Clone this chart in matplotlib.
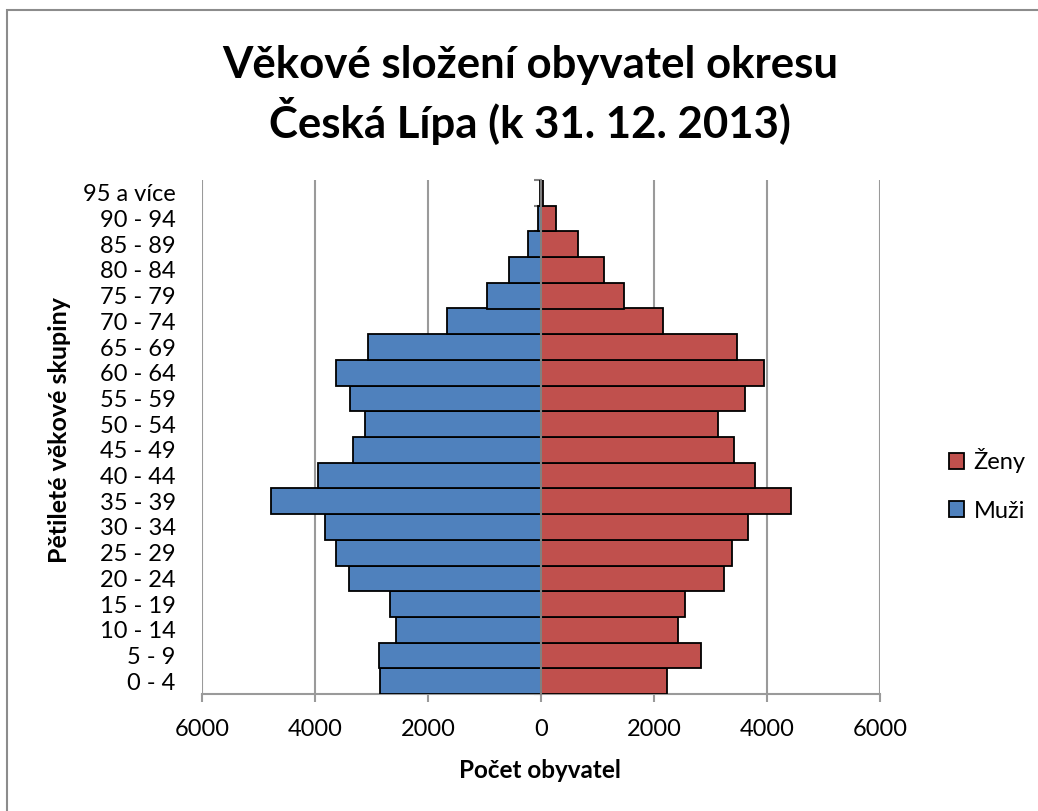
import matplotlib
matplotlib.use("Agg")
import matplotlib.pyplot as plt
import matplotlib.patches as mpatches
from matplotlib.ticker import FuncFormatter, FixedLocator
import numpy as np

plt.rcParams['font.family'] = ['Lato', 'DejaVu Sans']

categories = ["0 - 4", "5 - 9", "10 - 14", "15 - 19", "20 - 24", "25 - 29", "30 - 34",
              "35 - 39", "40 - 44", "45 - 49", "50 - 54", "55 - 59", "60 - 64",
              "65 - 69", "70 - 74", "75 - 79", "80 - 84", "85 - 89", "90 - 94", "95 a více"]
muzi = [2850, 2873, 2560, 2667, 3404, 3634, 3829, 4785, 3941, 3322, 3121, 3381, 3634,
        3068, 1670, 956, 561, 225, 60, 12]
zeny = [2224, 2838, 2419, 2543, 3239, 3375, 3670, 4425, 3794, 3422, 3139, 3611, 3953,
        3469, 2153, 1475, 1121, 660, 265, 35]
xticks = [-6000, -4000, -2000, 0, 2000, 4000, 6000]

title = "Věkové složení obyvatel okresu\nČeská Lípa (k 31. 12. 2013)"
xlabel = "Počet obyvatel"
ylabel = "Pětileté věkové skupiny"

BLUE = "#4F81BD"
RED = "#C0504D"
GRID = "#9A9A9A"

W, H = 1038, 811
fig = plt.figure(figsize=(W / 100, H / 100), dpi=100)
fig.patch.set_facecolor("white")

# chart border
fig.add_artist(mpatches.Rectangle((7 / W, -0.01), 1.02, 1 - 10 / H + 0.01,
                                  transform=fig.transFigure, fill=False,
                                  edgecolor="#8C8C8C", linewidth=1.5))

ax = fig.add_axes([202 / W, 1 - 694 / H, (880 - 202) / W, (694 - 180) / H])
y = np.arange(len(categories))
ax.barh(y, [-v for v in muzi], height=1.0, color=BLUE, edgecolor="black", linewidth=1.3,
        label="Muži", zorder=3)
ax.barh(y, zeny, height=1.0, color=RED, edgecolor="black", linewidth=1.3,
        label="Ženy", zorder=3)

ax.set_xlim(-6000, 6000)
ax.set_ylim(-0.5, len(categories) - 0.5)
ax.set_xticks(xticks)
ax.xaxis.set_major_formatter(FuncFormatter(lambda v, p: f"{abs(int(v))}"))
ax.grid(axis="x", color=GRID, linewidth=1.5, zorder=0)
ax.set_axisbelow(True)

for s in ["top", "right"]:
    ax.spines[s].set_visible(False)
ax.spines["bottom"].set_color(GRID)
ax.spines["bottom"].set_linewidth(1.5)
ax.spines["left"].set_position(("data", 0))
ax.spines["left"].set_color("#808080")
ax.spines["left"].set_linewidth(1.5)
ax.spines["left"].set_zorder(4)

ax.tick_params(axis="x", direction="out", length=6, width=1.5, color=GRID,
               labelsize=17, pad=12)
ax.set_yticks(y)
ax.set_yticklabels(categories)
ax.tick_params(axis="y", which="major", length=0, labelsize=17, pad=263)
ax.yaxis.set_minor_locator(FixedLocator(np.arange(-0.5, len(categories), 1.0)))
ax.tick_params(axis="y", which="minor", direction="out", length=5, width=1.5, color="#808080")

fig.text(530 / W, 1 - 95 / H, title, ha="center", va="center", fontsize=31.5,
         fontweight="bold", linespacing=1.3)
fig.text(540 / W, 1 - 770 / H, xlabel, ha="center", va="center", fontsize=17.5,
         fontweight="bold")
fig.text(60 / W, 1 - 430 / H, ylabel, ha="center", va="center", fontsize=18,
         fontweight="bold", rotation=90)

handles, labels = ax.get_legend_handles_labels()
leg = fig.legend(handles[::-1], labels[::-1], loc="center left",
                 bbox_to_anchor=(937 / W, 1 - 485 / H), frameon=False, fontsize=17,
                 handlelength=0.65, handleheight=0.65, handletextpad=0.4, labelspacing=1.15,
                 borderpad=0)

fig.savefig("out.png", dpi=100)
